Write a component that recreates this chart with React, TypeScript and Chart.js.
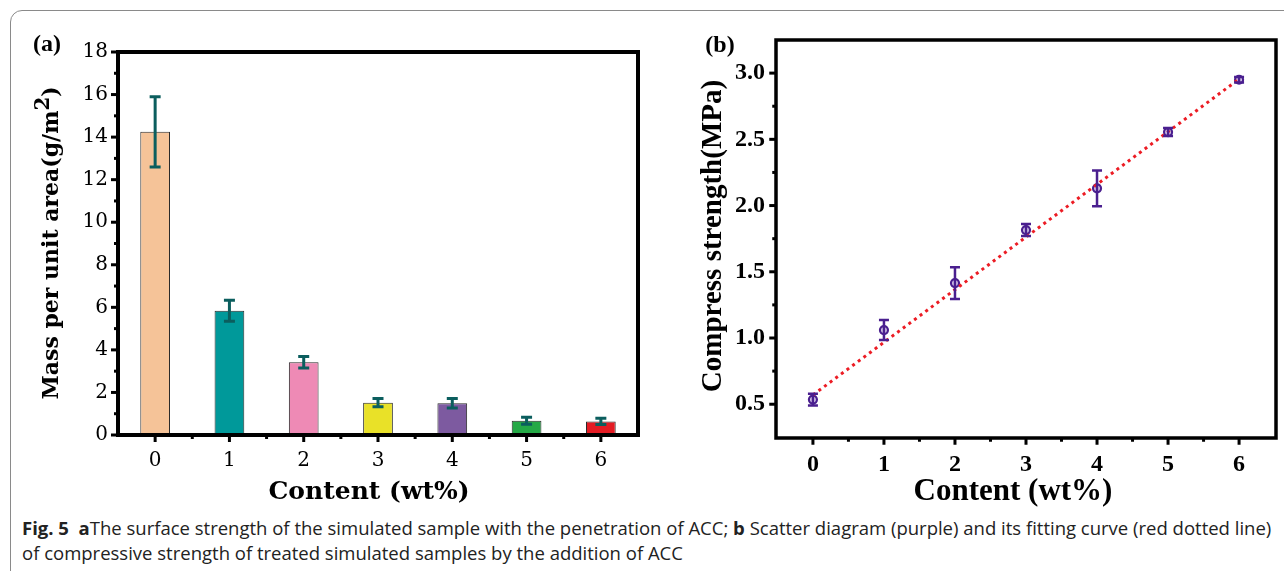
import React, { useEffect, useRef } from 'react';
import { Chart, registerables } from 'chart.js';

Chart.register(...registerables);

// ---------- Panel (a): mass per unit area ----------
const contentLabels = ['0', '1', '2', '3', '4', '5', '6'];
const massValues = [14.25, 5.84, 3.42, 1.52, 1.49, 0.67, 0.64];
const massErrors = [1.65, 0.49, 0.27, 0.19, 0.22, 0.17, 0.15];
const barColors = ['#F5C398', '#00999A', '#EE8AB5', '#E9E128', '#7D5AA0', '#24A946', '#E31B23'];
const massTickValues = [0, 2, 4, 6, 8, 10, 12, 14, 16, 18];
const massMinorTicks = [1, 3, 5, 7, 9, 11, 13, 15, 17];

// ---------- Panel (b): compressive strength ----------
const contentValues = [0, 1, 2, 3, 4, 5, 6];
const strengthValues = [0.535, 1.06, 1.415, 1.815, 2.13, 2.555, 2.95];
const strengthErrors = [0.045, 0.075, 0.12, 0.045, 0.135, 0.03, 0.02];
const fitContent = [0, 6];
const fitStrength = [0.57, 2.955];
const strengthTickValues = [0.5, 1.0, 1.5, 2.0, 2.5, 3.0];
const strengthMinorTicks = [0.75, 1.25, 1.75, 2.25, 2.75];
const contentMinorTicks = [0.5, 1.5, 2.5, 3.5, 4.5, 5.5];

type FrameOpts = {
  frameWidth: number;
  tickWidth: number;
  majorLen: number;
  minorLen: number;
  yMinor: number[];
  xMinor: number[] | 'mid';
  errDataset: number;
  errors: number[];
  errColor: string;
  errWidth: number;
  capHalf: number;
};

function makeFramePlugin(o: FrameOpts) {
  return {
    id: 'frameTicks',
    afterDatasetsDraw(chart: any) {
      const ctx = chart.ctx as CanvasRenderingContext2D;
      const { left, right, top, bottom } = chart.chartArea;
      const xs = chart.scales.x;
      const ys = chart.scales.y;
      const meta = chart.getDatasetMeta(o.errDataset);
      const ds = chart.data.datasets[o.errDataset];
      ctx.save();
      // error bars
      ctx.strokeStyle = o.errColor;
      ctx.lineWidth = o.errWidth;
      ctx.lineCap = 'butt';
      meta.data.forEach((el: any, i: number) => {
        const d = ds.data[i];
        const v = typeof d === 'number' ? d : d.y;
        const x = el.x;
        const yT = ys.getPixelForValue(v + o.errors[i]);
        const yB = ys.getPixelForValue(v - o.errors[i]);
        ctx.beginPath();
        ctx.moveTo(x, yT);
        ctx.lineTo(x, yB);
        ctx.moveTo(x - o.capHalf, yT);
        ctx.lineTo(x + o.capHalf, yT);
        ctx.moveTo(x - o.capHalf, yB);
        ctx.lineTo(x + o.capHalf, yB);
        ctx.stroke();
      });
      // frame
      ctx.strokeStyle = '#000';
      ctx.lineWidth = o.frameWidth;
      ctx.strokeRect(left, top, right - left, bottom - top);
      // ticks
      const half = o.frameWidth / 2;
      ctx.lineWidth = o.tickWidth;
      const seg = (x1: number, y1: number, x2: number, y2: number) => {
        ctx.beginPath();
        ctx.moveTo(x1, y1);
        ctx.lineTo(x2, y2);
        ctx.stroke();
      };
      ys.ticks.forEach((_t: any, i: number) => {
        const y = ys.getPixelForTick(i);
        seg(left, y, left - half - o.majorLen, y);
      });
      o.yMinor.forEach((v) => {
        const y = ys.getPixelForValue(v);
        seg(left, y, left - half - o.minorLen, y);
      });
      xs.ticks.forEach((_t: any, i: number) => {
        const x = xs.getPixelForTick(i);
        seg(x, bottom, x, bottom + half + o.majorLen);
      });
      if (o.xMinor === 'mid') {
        for (let i = 0; i < xs.ticks.length - 1; i++) {
          const x = (xs.getPixelForTick(i) + xs.getPixelForTick(i + 1)) / 2;
          seg(x, bottom, x, bottom + half + o.minorLen);
        }
      } else {
        o.xMinor.forEach((v) => {
          const x = xs.getPixelForValue(v);
          seg(x, bottom, x, bottom + half + o.minorLen);
        });
      }
      ctx.restore();
    },
  };
}

function MassChart() {
  const ref = useRef<HTMLCanvasElement>(null);
  useEffect(() => {
    if (!ref.current) return;
    const tickFont = { family: 'DejaVu Serif', size: 20 };
    const chart = new Chart(ref.current, {
      type: 'bar',
      data: {
        labels: contentLabels,
        datasets: [
          {
            data: massValues,
            backgroundColor: barColors,
            borderColor: '#2a2a2a',
            borderWidth: 1,
            barPercentage: 0.4,
            categoryPercentage: 1,
          },
        ],
      },
      options: {
        animation: false,
        responsive: false,
        maintainAspectRatio: false,
        layout: { padding: { top: 52, right: 12, left: 0, bottom: 0 } },
        plugins: { legend: { display: false }, tooltip: { enabled: false } },
        scales: {
          x: {
            type: 'category',
            offset: true,
            grid: { display: false, drawTicks: false },
            border: { display: false },
            ticks: { color: '#000', font: tickFont, padding: 14 },
            afterFit: (s: any) => {
              s.height = 75;
            },
          },
          y: {
            type: 'linear',
            min: 0,
            max: 18,
            afterBuildTicks: (s: any) => {
              s.ticks = massTickValues.map((v) => ({ value: v }));
            },
            grid: { display: false, drawTicks: false },
            border: { display: false },
            ticks: { color: '#000', font: tickFont, padding: 10 },
            afterFit: (s: any) => {
              s.width = 118;
            },
          },
        },
      },
      plugins: [
        makeFramePlugin({
          frameWidth: 4,
          tickWidth: 3,
          majorLen: 5,
          minorLen: 2,
          yMinor: massMinorTicks,
          xMinor: 'mid',
          errDataset: 0,
          errors: massErrors,
          errColor: '#0B5E5E',
          errWidth: 3,
          capHalf: 5.5,
        }),
      ],
    } as any);
    return () => chart.destroy();
  }, []);
  return <canvas ref={ref} width={650} height={510} style={{ position: 'absolute', left: 0, top: 0 }} />;
}

function StrengthChart() {
  const ref = useRef<HTMLCanvasElement>(null);
  useEffect(() => {
    if (!ref.current) return;
    const tickFont = { family: 'Liberation Serif', size: 24, weight: 'bold' as const };
    const chart = new Chart(ref.current, {
      type: 'scatter',
      data: {
        datasets: [
          {
            data: contentValues.map((x, i) => ({ x, y: strengthValues[i] })),
            pointRadius: 4,
            pointBorderWidth: 2.2,
            pointBorderColor: '#4A1F8F',
            pointBackgroundColor: '#D9CDEA',
            showLine: false,
            order: 2,
          },
          {
            data: fitContent.map((x, i) => ({ x, y: fitStrength[i] })),
            showLine: true,
            borderColor: '#EC1C24',
            borderWidth: 3,
            borderDash: [3, 4],
            borderCapStyle: 'butt',
            pointRadius: 0,
            fill: false,
            order: 1,
          },
        ],
      },
      options: {
        animation: false,
        responsive: false,
        maintainAspectRatio: false,
        layout: { padding: { top: 40, right: 8, left: 0, bottom: 0 } },
        plugins: { legend: { display: false }, tooltip: { enabled: false } },
        scales: {
          x: {
            type: 'linear',
            min: -0.52,
            max: 6.52,
            afterBuildTicks: (s: any) => {
              s.ticks = contentValues.map((v) => ({ value: v }));
            },
            grid: { display: false, drawTicks: false },
            border: { display: false },
            ticks: { color: '#000', font: tickFont, padding: 12, callback: (v: any) => String(v) },
            afterFit: (s: any) => {
              s.height = 72;
            },
          },
          y: {
            type: 'linear',
            min: 0.245,
            max: 3.25,
            afterBuildTicks: (s: any) => {
              s.ticks = strengthTickValues.map((v) => ({ value: v }));
            },
            grid: { display: false, drawTicks: false },
            border: { display: false },
            ticks: { color: '#000', font: tickFont, padding: 11, callback: (v: any) => Number(v).toFixed(1) },
            afterFit: (s: any) => {
              s.width = 126;
            },
          },
        },
      },
      plugins: [
        makeFramePlugin({
          frameWidth: 3.5,
          tickWidth: 3,
          majorLen: 5,
          minorLen: 2,
          yMinor: strengthMinorTicks,
          xMinor: contentMinorTicks,
          errDataset: 0,
          errors: strengthErrors,
          errColor: '#4A1F8F',
          errWidth: 2.5,
          capHalf: 5,
        }),
      ],
    } as any);
    return () => chart.destroy();
  }, []);
  return <canvas ref={ref} width={634} height={510} style={{ position: 'absolute', left: 0, top: 0 }} />;
}

const centered = (x: number, y: number, extra: React.CSSProperties = {}): React.CSSProperties => ({
  position: 'absolute',
  left: x,
  top: y,
  transform: 'translate(-50%, -50%)',
  whiteSpace: 'nowrap',
  lineHeight: 1,
  color: '#000',
  ...extra,
});

export default function App() {
  return (
    <div
      style={{
        position: 'fixed',
        left: 0,
        top: 0,
        width: 1284,
        height: 571,
        overflow: 'hidden',
        background: '#fff',
      }}
    >
      <div
        style={{
          position: 'absolute',
          left: 10,
          top: 10,
          width: 1320,
          height: 600,
          border: '1px solid #8a8a8a',
          borderRadius: 12,
          boxSizing: 'border-box',
        }}
      />
      <div style={{ position: 'absolute', left: 0, top: 0, width: 650, height: 510 }}>
        <MassChart />
      </div>
      <div style={{ position: 'absolute', left: 650, top: 0, width: 634, height: 510 }}>
        <StrengthChart />
      </div>

      {/* panel labels */}
      <div style={centered(47, 43, { fontFamily: 'Liberation Serif', fontWeight: 'bold', fontSize: 24 })}>(a)</div>
      <div style={centered(720, 44, { fontFamily: 'Liberation Serif', fontWeight: 'bold', fontSize: 24 })}>(b)</div>

      {/* axis titles (a) */}
      <div
        style={centered(50, 243, {
          fontFamily: 'DejaVu Serif',
          fontWeight: 'bold',
          fontSize: 22,
          transform: 'translate(-50%, -50%) rotate(-90deg)',
        })}
      >
        Mass per unit area(g/m
        <span style={{ fontSize: '0.9em', position: 'relative', top: '-0.45em' }}>2</span>)
      </div>
      <div style={centered(369, 490, { fontFamily: 'DejaVu Serif', fontWeight: 'bold', fontSize: 25 })}>
        Content (wt%)
      </div>

      {/* axis titles (b) */}
      <div
        style={centered(711, 236, {
          fontFamily: 'Liberation Serif',
          fontWeight: 'bold',
          fontSize: 29,
          transform: 'translate(-50%, -50%) rotate(-90deg)',
        })}
      >
        Compress strength(MPa)
      </div>
      <div style={centered(1013, 489, { fontFamily: 'Liberation Serif', fontWeight: 'bold', fontSize: 31 })}>
        Content (wt%)
      </div>

      {/* caption */}
      <div
        style={{
          position: 'absolute',
          left: 22,
          top: 515,
          fontFamily: 'Open Sans',
          fontSize: 18.5,
          lineHeight: '25px',
          color: '#222',
          whiteSpace: 'nowrap',
        }}
      >
        <b>Fig. 5</b>&nbsp;&nbsp;<b>a</b>The surface strength of the simulated sample with the penetration of ACC;{' '}
        <b>b</b> Scatter diagram (purple) and its fitting curve (red dotted line)
        <br />
        of compressive strength of treated simulated samples by the addition of ACC
      </div>
    </div>
  );
}
